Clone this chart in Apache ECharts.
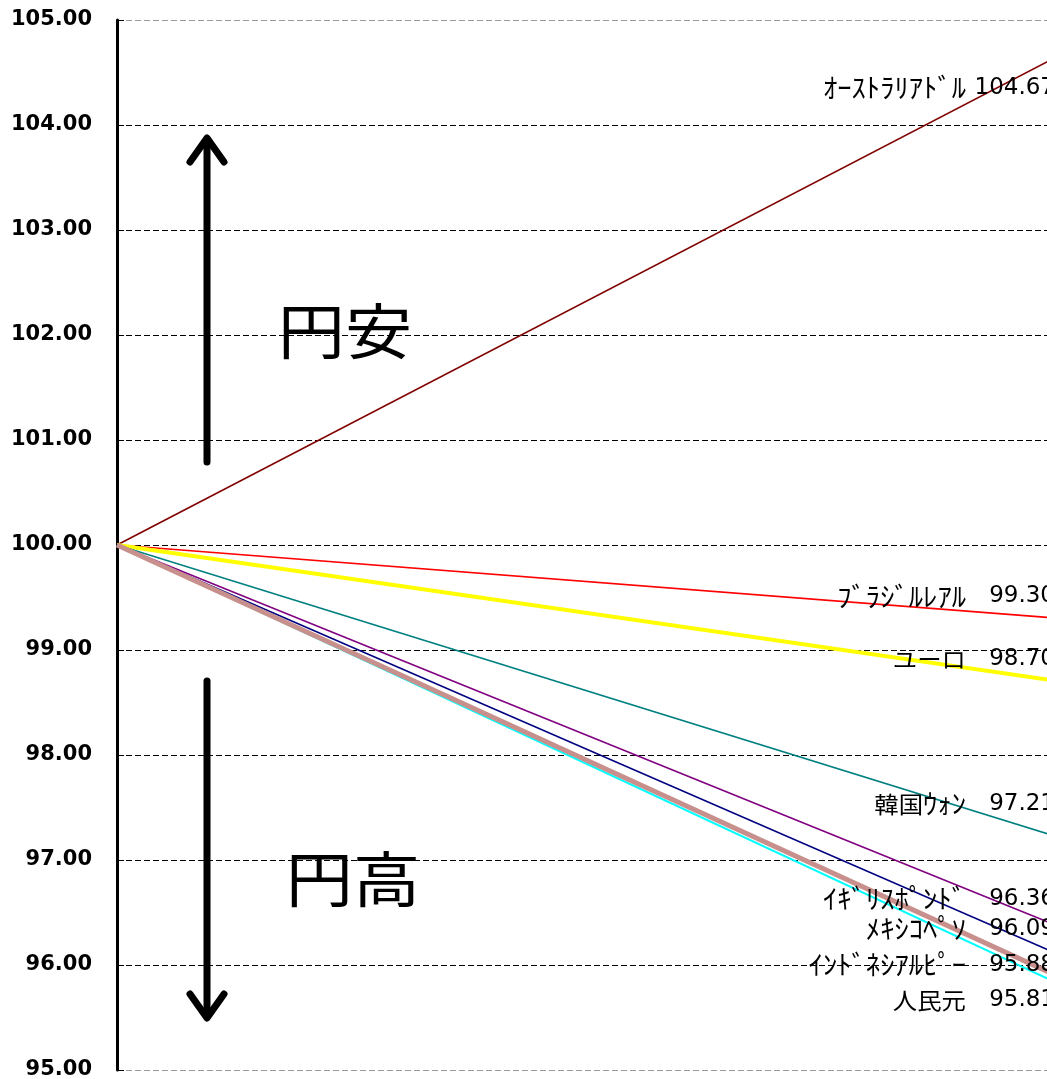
<!DOCTYPE html>
<html>
<head>
<meta charset="utf-8">
<script src="https://cdn.jsdelivr.net/npm/echarts@6/dist/echarts.min.js"></script>
<style>
html,body{margin:0;padding:0;background:#fff;}
#main{width:1047px;height:1079px;}
</style>
</head>
<body>
<div id="main"></div>
<script>
// ---- data ----
const currencies = ['ｵｰｽﾄﾗﾘｱﾄﾞﾙ', 'ﾌﾞﾗｼﾞﾙﾚｱﾙ', 'ユーロ', '韓国ｳｫﾝ', 'ｲｷﾞﾘｽﾎﾟﾝﾄﾞ', 'ﾒｷｼｺﾍﾟｿ', 'ｲﾝﾄﾞﾈｼｱﾙﾋﾟｰ', '人民元'];
const periods = [0, 1];
const startValues = [100, 100, 100, 100, 100, 100, 100, 100];
const endValues = [104.67, 99.30, 98.70, 97.21, 96.36, 96.09, 95.88, 95.81];
const yMin = 95, yMax = 105, yStep = 1;
const upLabel = '円安';
const downLabel = '円高';

// ---- styles (kept apart from data) ----
const lineColors = ['#800000', '#FF0000', '#FFFF00', '#008080', '#800080', '#000080', '#C8908C', '#00FFFF'];
const lineWidths = [1.6, 1.6, 4, 1.6, 1.6, 1.6, 5, 2];
const lineZ = [2, 2, 2, 2, 2, 2, 4, 3];
const labelDy = [33, -22, -22, -34, -28, -27, -13, 15];
const nameGap = 95;       // px between line end and right edge of the name text
const valueGap = 6;       // px between line end and right edge of the value text
const textStretch = 1.06; // horizontal stretch of the reference's label lettering

// split a name into half-width / full-width runs so each gets its own size
function richName(name) {
  let out = '', run = '', kind = null;
  for (const ch of name) {
    const code = ch.codePointAt(0);
    const k = (code >= 0xFF61 && code <= 0xFF9F) ? 'h' : 'f';
    if (k !== kind && run) { out += '{' + kind + '|' + run + '}'; run = ''; }
    kind = k; run += ch;
  }
  if (run) out += '{' + kind + '|' + run + '}';
  return out;
}

const splitColors = [];
for (let v = yMin; v <= yMax; v += yStep) {
  splitColors.push(v === yMin || v === yMax ? '#9a9a9a' : '#000000');
}

const series = currencies.map((name, i) => ({
  name: name,
  type: 'line',
  data: [[periods[0], startValues[i]], [periods[1], endValues[i]]],
  showSymbol: false,
  symbol: 'none',
  z: lineZ[i],
  lineStyle: { color: lineColors[i], width: lineWidths[i] },
  itemStyle: { color: lineColors[i] },
  endLabel: {
    show: true,
    distance: 0,
    align: 'right',
    verticalAlign: 'middle',
    offset: [-valueGap, labelDy[i]],
    fontFamily: '"DejaVu Sans", sans-serif',
    fontSize: 23,
    color: '#000',
    formatter: (p) => p.value[1].toFixed(2)
  }
}));

const arrows = [
  { type: 'line', z: 10, shape: { x1: 207, y1: 462, x2: 207, y2: 140 }, style: { stroke: '#000', lineWidth: 7, lineCap: 'round' } },
  { type: 'polyline', z: 10, shape: { points: [[190, 162], [207, 138], [224, 162]] }, style: { stroke: '#000', lineWidth: 7, lineCap: 'round', lineJoin: 'round', fill: null } },
  { type: 'line', z: 10, shape: { x1: 207, y1: 681, x2: 207, y2: 1016 }, style: { stroke: '#000', lineWidth: 7, lineCap: 'round' } },
  { type: 'polyline', z: 10, shape: { points: [[190, 994], [207, 1018], [224, 994]] }, style: { stroke: '#000', lineWidth: 7, lineCap: 'round', lineJoin: 'round', fill: null } },
  { type: 'text', z: 10, x: 345, y: 331, scaleX: 1.12, style: { text: upLabel, font: '60px "Noto Sans CJK JP", sans-serif', fill: '#000', align: 'center', verticalAlign: 'middle' } },
  { type: 'text', z: 10, x: 353, y: 879, scaleX: 1.12, style: { text: downLabel, font: '60px "Noto Sans CJK JP", sans-serif', fill: '#000', align: 'center', verticalAlign: 'middle' } }
];

const chart = echarts.init(document.getElementById('main'), null, { renderer: 'canvas' });
chart.setOption({
  animation: false,
  backgroundColor: '#ffffff',
  grid: { left: 117, right: -14, top: 20, bottom: 9, containLabel: false, outerBoundsMode: 'none' },
  xAxis: {
    type: 'value',
    min: periods[0],
    max: periods[1],
    axisLine: { show: false },
    axisTick: { show: false },
    axisLabel: { show: false },
    splitLine: { show: false }
  },
  yAxis: {
    type: 'value',
    min: yMin,
    max: yMax,
    interval: yStep,
    axisLine: { show: true, lineStyle: { color: '#000', width: 3 } },
    axisTick: { show: true, inside: true, length: 7, lineStyle: { color: '#000', width: 1 } },
    axisLabel: {
      margin: 25,
      color: '#000',
      fontFamily: '"DejaVu Sans", sans-serif',
      fontWeight: 'bold',
      fontSize: 21,
      formatter: (v) => v.toFixed(2)
    },
    splitLine: { show: true, lineStyle: { color: splitColors, width: 1, type: [6, 3] } }
  },
  series: series
});

// Currency names: placed from the library's own scale at each line's end point,
// drawn with a horizontal stretch like the reference lettering.
const nameTexts = currencies.map((name, i) => {
  const pt = chart.convertToPixel({ gridIndex: 0 }, [periods[1], endValues[i]]);
  return {
    type: 'text', z: 20, x: pt[0] - nameGap, y: pt[1] + labelDy[i], scaleX: textStretch,
    style: {
      text: richName(name), fill: '#000', align: 'right', verticalAlign: 'middle',
      rich: {
        h: { fontFamily: '"Noto Sans CJK JP", sans-serif', fontSize: 27, fill: '#000', verticalAlign: 'middle', lineHeight: 30 },
        f: { fontFamily: '"Noto Sans CJK JP", sans-serif', fontSize: 23, fill: '#000', verticalAlign: 'middle', lineHeight: 30 }
      }
    }
  };
});
chart.setOption({ graphic: arrows.concat(nameTexts) });
</script>
</body>
</html>
